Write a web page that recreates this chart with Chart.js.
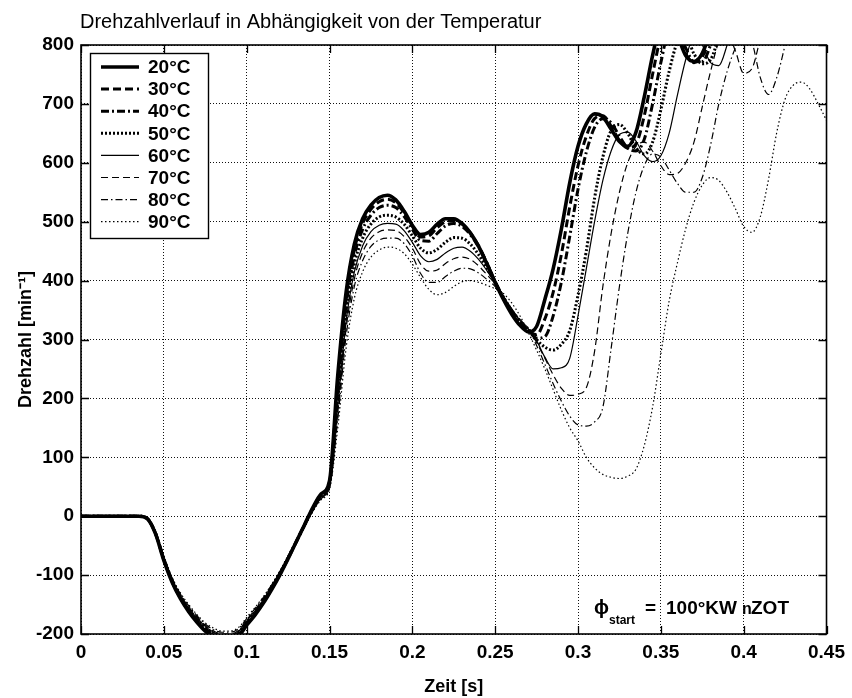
<!DOCTYPE html>
<html>
<head>
<meta charset="utf-8">
<script src="https://cdn.jsdelivr.net/npm/chart.js@4.4.1/dist/chart.umd.min.js"></script>
<style>
  html, body { margin: 0; padding: 0; background: #fff; }
  #wrap { width: 852px; height: 698px; }
</style>
</head>
<body>
<div id="wrap"><canvas id="drehzahlChart" width="852" height="698"></canvas></div>
<script>
// Zeitachse in s (Schrittweite 0.005 s)
const zeit = [
  0.000, 0.005, 0.010, 0.015, 0.020, 0.025, 0.030, 0.035, 0.040, 0.045,
  0.050, 0.055, 0.060, 0.065, 0.070, 0.075, 0.080, 0.085, 0.090, 0.095,
  0.100, 0.105, 0.110, 0.115, 0.120, 0.125, 0.130, 0.135, 0.140, 0.145,
  0.150, 0.155, 0.160, 0.165, 0.170, 0.175, 0.180, 0.185, 0.190, 0.195,
  0.200, 0.205, 0.210, 0.215, 0.220, 0.225, 0.230, 0.235, 0.240, 0.245,
  0.250, 0.255, 0.260, 0.265, 0.270, 0.275, 0.280, 0.285, 0.290, 0.295,
  0.300, 0.305, 0.310, 0.315, 0.320, 0.325, 0.330, 0.335, 0.340, 0.345,
  0.350, 0.355, 0.360, 0.365, 0.370, 0.375, 0.380, 0.385, 0.390, 0.395,
  0.400, 0.405, 0.410, 0.415, 0.420, 0.425, 0.430, 0.435, 0.440, 0.445,
  0.450
];

// Drehzahl in 1/min je Temperatur
const n20 = [
  0, 0, 0, 0, 0, 0, 0, 0, -4, -30,
  -75, -112, -140, -162, -180, -195, -205, -210, -210, -204,
  -185, -168, -148, -125, -100, -72, -43, -14, 15, 38,
  60, 240, 380, 462, 505, 528, 541, 545, 537, 518,
  494, 478, 482, 496, 505, 505, 497, 481, 458, 428,
  397, 368, 343, 324, 313, 322, 368, 420, 488, 566,
  628, 666, 683, 678, 657, 636, 628, 652, 712, 782,
  840, 858, 818, 782, 772, 786, 825, 880, 925, 955,
  970, 975, 970, 960, 950, 945, 950, 960, 970, 980,
  990
];
const n30 = [
  0, 0, 0, 0, 0, 0, 0, 0, -4, -30,
  -74, -111, -139, -161, -179, -193, -203, -208, -208, -202,
  -184, -167, -147, -124, -99, -72, -43, -14, 14, 37,
  58, 228, 370, 453, 497, 521, 534, 538, 532, 515,
  492, 474, 476, 490, 500, 502, 496, 481, 459, 430,
  398, 370, 345, 326, 314, 308, 335, 380, 445, 525,
  595, 645, 675, 680, 662, 638, 625, 632, 680, 750,
  815, 850, 820, 785, 770, 780, 815, 870, 920, 950,
  965, 970, 965, 955, 945, 940, 945, 955, 965, 975,
  985
];
const n40 = [
  0, 0, 0, 0, 0, 0, 0, 0, -4, -29,
  -73, -110, -138, -160, -177, -191, -201, -206, -206, -200,
  -182, -165, -146, -123, -98, -71, -43, -15, 13, 36,
  56, 215, 358, 442, 487, 511, 524, 528, 524, 509,
  487, 468, 467, 480, 493, 497, 492, 478, 457, 430,
  398, 371, 347, 328, 316, 302, 305, 340, 398, 475,
  555, 618, 660, 675, 668, 645, 625, 620, 640, 700,
  770, 825, 830, 795, 772, 772, 800, 850, 900, 935,
  955, 960, 955, 945, 935, 930, 935, 945, 955, 965,
  975
];
const n50 = [
  0, 0, 0, 0, 0, 0, 0, 0, -4, -29,
  -72, -109, -137, -158, -175, -189, -199, -204, -204, -198,
  -180, -163, -144, -121, -97, -70, -43, -15, 12, 34,
  54, 200, 343, 428, 472, 496, 508, 511, 508, 496,
  476, 455, 447, 453, 465, 473, 472, 462, 444, 421,
  396, 372, 349, 330, 318, 300, 287, 282, 292, 315,
  375, 450, 540, 610, 655, 665, 650, 625, 615, 635,
  690, 755, 805, 815, 785, 768, 775, 815, 870, 915,
  940, 950, 945, 935, 925, 920, 925, 935, 945, 955,
  965
];
const n60 = [
  0, 0, 0, 0, 0, 0, 0, 0, -3, -28,
  -71, -108, -135, -156, -173, -187, -197, -202, -202, -196,
  -178, -161, -142, -120, -96, -70, -43, -16, 11, 33,
  52, 188, 330, 415, 459, 483, 494, 497, 496, 485,
  465, 442, 432, 436, 447, 455, 457, 450, 436, 417,
  396, 373, 351, 332, 318, 298, 270, 250, 252, 268,
  340, 420, 500, 570, 620, 648, 652, 637, 612, 602,
  612, 650, 715, 775, 815, 800, 770, 765, 800, 850,
  895, 925, 940, 940, 930, 920, 915, 920, 930, 940,
  950
];
const n70 = [
  0, 0, 0, 0, 0, 0, 0, 0, -3, -28,
  -70, -106, -133, -154, -171, -185, -195, -200, -200, -194,
  -176, -159, -140, -118, -95, -69, -43, -16, 10, 31,
  50, 176, 318, 403, 448, 472, 483, 486, 485, 475,
  455, 428, 416, 418, 429, 437, 440, 436, 425, 410,
  394, 373, 352, 333, 318, 295, 268, 240, 217, 205,
  207, 218, 280, 390, 480, 550, 600, 628, 635, 620,
  595, 580, 582, 600, 635, 695, 755, 805, 820, 790,
  752, 760, 810, 860, 900, 920, 925, 920, 915, 920,
  930
];
const n80 = [
  0, 0, 0, 0, 0, 0, 0, 0, -3, -27,
  -69, -105, -132, -152, -169, -183, -193, -197, -197, -191,
  -174, -157, -138, -117, -94, -69, -43, -17, 9, 30,
  48, 165, 305, 390, 434, 458, 469, 472, 472, 463,
  442, 412, 397, 397, 407, 416, 421, 420, 413, 402,
  390, 372, 352, 334, 318, 290, 258, 225, 195, 170,
  155, 153, 160, 185, 285, 390, 480, 550, 595, 615,
  610, 588, 565, 550, 550, 575, 630, 700, 755, 795,
  820, 805, 745, 716, 745, 800, 860, 900, 930, 950,
  960
];
const n90 = [
  0, 0, 0, 0, 0, 0, 0, 0, -3, -27,
  -68, -104, -130, -150, -167, -181, -190, -195, -195, -189,
  -172, -155, -137, -116, -93, -68, -43, -17, 8, 28,
  46, 150, 285, 370, 415, 440, 452, 457, 455, 446,
  428, 405, 385, 376, 380, 390, 398, 400, 397, 392,
  386, 378, 362, 340, 312, 282, 250, 215, 180, 150,
  128, 100, 82, 71, 66, 64, 68, 80, 120, 185,
  275, 365, 430, 488, 533, 562, 575, 570, 550, 522,
  492, 482, 508, 572, 652, 708, 732, 737, 725, 700,
  672
];

const temperaturen = ['20°C', '30°C', '40°C', '50°C', '60°C', '70°C', '80°C', '90°C'];
const reihen = [n20, n30, n40, n50, n60, n70, n80, n90];

// Achsenbeschriftung
const xTickWerte = [0, 0.05, 0.1, 0.15, 0.2, 0.25, 0.3, 0.35, 0.4, 0.45];
const xTickText = ['0', '0.05', '0.1', '0.15', '0.2', '0.25', '0.3', '0.35', '0.4', '0.45'];
const yTickWerte = [-200, -100, 0, 100, 200, 300, 400, 500, 600, 700, 800];
const yTickText = ['-200', '-100', '0', '100', '200', '300', '400', '500', '600', '700', '800'];

// Linienstile wie im Matlab-Plot: dick fuer 20-50 °C, duenn fuer 60-90 °C
const linienBreite = [3.6, 3, 3, 3, 1.2, 1.2, 1.2, 1.2];
const linienMuster = [[], [8, 4], [8, 3, 2, 3], [2, 2], [], [7, 4], [7, 3, 1.5, 3], [1.5, 2.5]];

const FONT = "'Liberation Sans', Arial, Helvetica, sans-serif";

const datasets = reihen.map((werte, k) => ({
    label: temperaturen[k],
    data: zeit.map((t, i) => ({ x: t, y: werte[i] })),
    borderColor: '#000',
    borderWidth: linienBreite[k],
    borderDash: linienMuster[k],
    pointRadius: 0,
    cubicInterpolationMode: 'monotone',
    clip: 0
}));

// Rahmen, Ticks nach innen, Legende und Beschriftungen
const matlabRahmen = {
    id: 'matlabRahmen',
    afterDatasetsDraw(chart) {
        const ctx = chart.ctx;
        const { left, right, top, bottom } = chart.chartArea;
        const sx = chart.scales.x, sy = chart.scales.y;
        ctx.save();

        // Legende
        const lx = 90, ly = 53, lw = 118, lh = 185;
        ctx.fillStyle = '#fff';
        ctx.fillRect(lx, ly, lw, lh);
        ctx.strokeStyle = '#000';
        ctx.lineWidth = 1.4;
        ctx.setLineDash([]);
        ctx.strokeRect(lx + 0.5, ly + 0.5, lw, lh);
        chart.data.datasets.forEach((ds, k) => {
            const y = 67 + k * 22.1;
            ctx.beginPath();
            ctx.lineWidth = ds.borderWidth;
            ctx.setLineDash(ds.borderDash);
            ctx.moveTo(101, y);
            ctx.lineTo(139, y);
            ctx.stroke();
            ctx.setLineDash([]);
            ctx.fillStyle = '#000';
            ctx.font = 'bold 19px ' + FONT;
            ctx.textBaseline = 'middle';
            ctx.textAlign = 'left';
            ctx.fillText(ds.label, 148, y + 1);
        });

        // Achsenrahmen
        ctx.setLineDash([]);
        ctx.strokeStyle = '#000';
        ctx.lineWidth = 1.6;
        ctx.strokeRect(left, top, right - left, bottom - top);

        // Ticks nach innen
        ctx.lineWidth = 1.3;
        ctx.beginPath();
        xTickWerte.forEach(v => {
            const px = Math.round(sx.getPixelForValue(v)) + 0.5;
            ctx.moveTo(px, bottom); ctx.lineTo(px, bottom - 8);
            ctx.moveTo(px, top); ctx.lineTo(px, top + 8);
        });
        yTickWerte.forEach(v => {
            const py = Math.round(sy.getPixelForValue(v)) + 0.5;
            ctx.moveTo(left, py); ctx.lineTo(left + 8, py);
            ctx.moveTo(right, py); ctx.lineTo(right - 8, py);
        });
        ctx.stroke();

        // Titel
        ctx.fillStyle = '#000';
        ctx.textAlign = 'left';
        ctx.textBaseline = 'middle';
        ctx.font = '20px ' + FONT;
        ctx.fillText('Drehzahlverlauf in Abhängigkeit von der Temperatur', 80, 22);

        // Zuendwinkel-Angabe
        ctx.textBaseline = 'alphabetic';
        ctx.font = 'bold 20px ' + FONT;
        ctx.fillText('ϕ', 594, 614);
        ctx.font = 'bold 12px ' + FONT;
        ctx.fillText('start', 609, 624);
        ctx.font = 'bold 19px ' + FONT;
        ctx.fillText('=', 645, 614);
        ctx.fillText('100°KW', 666, 614);
        ctx.font = 'bold 16px ' + FONT;
        ctx.fillText('n', 742, 614);
        ctx.font = 'bold 19px ' + FONT;
        ctx.fillText('ZOT', 751, 614);
        ctx.restore();
    }
};

new Chart(document.getElementById('drehzahlChart'), {
    type: 'line',
    data: { datasets },
    options: {
        responsive: false,
        animation: false,
        layout: { padding: { top: 45, right: 24, left: 0, bottom: 0 } },
        plugins: {
            legend: { display: false },
            title: { display: false },
            tooltip: { enabled: false }
        },
        scales: {
            x: {
                type: 'linear',
                min: 0,
                max: 0.45,
                afterFit: s => { s.height = 64; },
                afterBuildTicks: s => { s.ticks = xTickWerte.map(v => ({ value: v })); },
                ticks: {
                    padding: 7,
                    color: '#000',
                    font: { family: FONT, size: 19, weight: 'bold' },
                    maxRotation: 0,
                    callback: (v, i) => xTickText[i]
                },
                grid: { color: '#111', lineWidth: 1, drawTicks: false },
                border: { display: false, dash: [1, 2] },
                title: {
                    display: true,
                    text: 'Zeit [s]',
                    color: '#000',
                    font: { family: FONT, size: 18, weight: 'bold' },
                    padding: { top: 0, bottom: 0 }
                }
            },
            y: {
                min: -200,
                max: 800,
                afterFit: s => { s.width = 81; },
                afterBuildTicks: s => { s.ticks = yTickWerte.map(v => ({ value: v })); },
                ticks: {
                    padding: 7,
                    color: '#000',
                    font: { family: FONT, size: 19, weight: 'bold' },
                    callback: (v, i) => yTickText[i]
                },
                grid: { color: '#111', lineWidth: 1, drawTicks: false },
                border: { display: false, dash: [1, 2] },
                title: {
                    display: true,
                    text: 'Drehzahl [min⁻¹]',
                    color: '#000',
                    font: { family: FONT, size: 18, weight: 'bold' },
                    padding: { top: 15, bottom: 0 }
                }
            }
        }
    },
    plugins: [matlabRahmen]
});
</script>
</body>
</html>
